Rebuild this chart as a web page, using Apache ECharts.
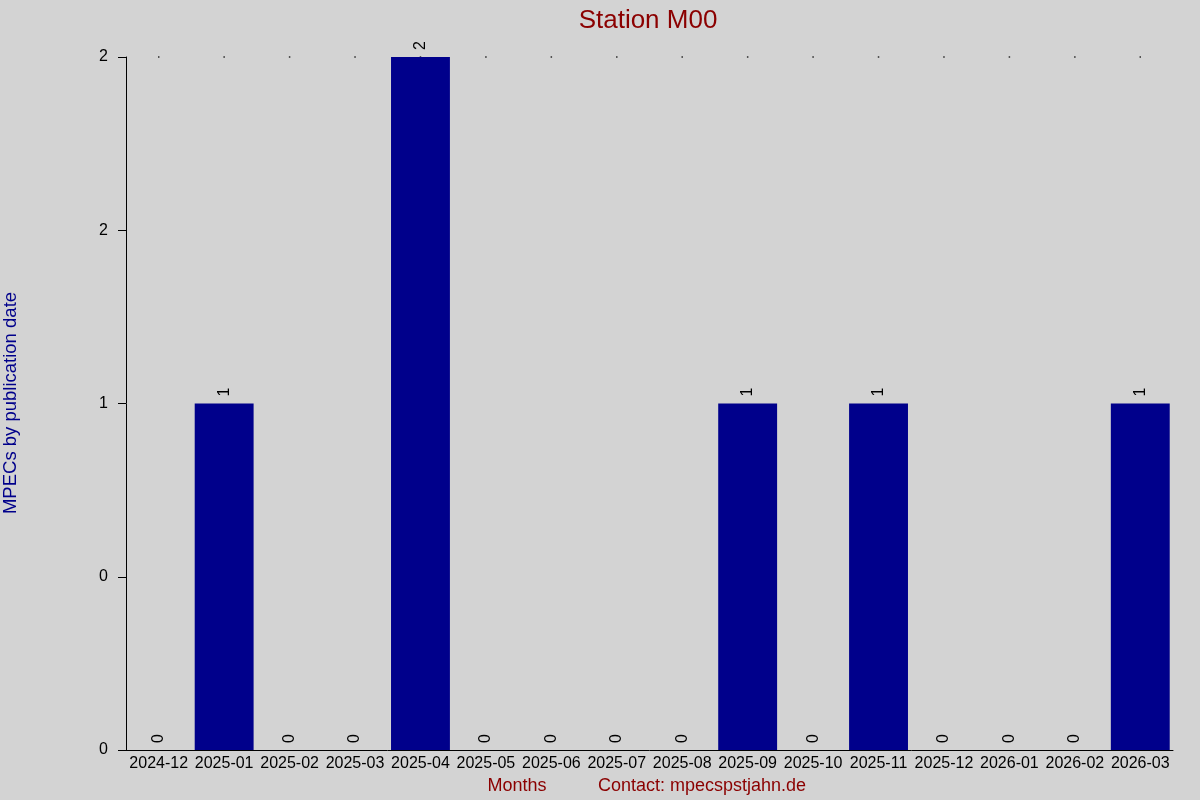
<!DOCTYPE html>
<html>
<head>
<meta charset="utf-8">
<script src="https://cdn.jsdelivr.net/npm/echarts@6/dist/echarts.min.js"></script>
<style>
    html, body { margin: 0; padding: 0; background: #d3d3d3; }
    #station_chart { width: 1200px; height: 800px; }
</style>
</head>
<body>
<div id="station_chart"></div>
<script>
// Chart data
var months = ['2024-12', '2025-01', '2025-02', '2025-03', '2025-04', '2025-05', '2025-06', '2025-07',
              '2025-08', '2025-09', '2025-10', '2025-11', '2025-12', '2026-01', '2026-02', '2026-03'];
var mpecCounts = [0, 1, 0, 0, 2, 0, 0, 0, 0, 1, 0, 1, 0, 0, 0, 1];
var topDots = [2, 2, 2, 2, 2, 2, 2, 2, 2, 2, 2, 2, 2, 2, 2, 2];
var yTickLabels = ['0', '0', '1', '2', '2'];

var StationChart = function() {

    var _stationChart = function() {
        if (typeof echarts == 'undefined') {
            console.warn('Warning - echarts.min.js is not loaded.');
            return;
        }

        var station_element = document.getElementById('station_chart');
        if (!station_element) return;

        var station_chart = echarts.init(station_element);

        station_chart.setOption({
            backgroundColor: '#d3d3d3',
            animation: false,
            textStyle: {
                fontFamily: '"Liberation Sans", Arial, sans-serif'
            },

            // Title
            title: {
                text: 'Station M00',
                left: 643,
                top: 3,
                textAlign: 'center',
                textStyle: {
                    color: '#8b0000',
                    fontSize: 26,
                    fontWeight: 'normal',
                    fontFamily: '"Liberation Sans", Arial, sans-serif'
                }
            },

            // Axis names and footer
            graphic: [
                {
                    type: 'text',
                    x: 11,
                    y: 403,
                    rotation: Math.PI / 2,
                    style: {
                        text: 'MPECs by publication date',
                        fill: '#00008b',
                        fontSize: 18.5,
                        fontFamily: '"Liberation Sans", Arial, sans-serif',
                        textAlign: 'center',
                        textVerticalAlign: 'middle'
                    }
                },
                {
                    type: 'text',
                    x: 517,
                    y: 786,
                    style: {
                        text: 'Months',
                        fill: '#8b0000',
                        fontSize: 18,
                        fontFamily: '"Liberation Sans", Arial, sans-serif',
                        textAlign: 'center',
                        textVerticalAlign: 'middle'
                    }
                },
                {
                    type: 'text',
                    x: 598,
                    y: 786,
                    style: {
                        text: 'Contact: mpecspstjahn.de',
                        fill: '#8b0000',
                        fontSize: 18,
                        fontFamily: '"Liberation Sans", Arial, sans-serif',
                        textAlign: 'left',
                        textVerticalAlign: 'middle'
                    }
                }
            ],

            grid: {
                left: 126,
                right: 27,
                top: 57,
                bottom: 50,
                containLabel: false
            },

            xAxis: {
                type: 'category',
                data: months,
                axisLine: {
                    lineStyle: { color: '#000', width: 1 }
                },
                axisTick: { show: false },
                axisLabel: {
                    color: '#000',
                    fontSize: 16,
                    margin: 6,
                    interval: 0
                },
                splitLine: { show: false }
            },

            yAxis: {
                type: 'value',
                min: 0,
                max: 2,
                interval: 0.5,
                axisLine: {
                    show: true,
                    lineStyle: { color: '#000', width: 1 }
                },
                axisTick: {
                    show: true,
                    length: 8,
                    lineStyle: { color: '#000' }
                },
                axisLabel: {
                    color: '#000',
                    fontSize: 16,
                    margin: 18,
                    formatter: function(v) {
                        return yTickLabels[Math.round(v / 0.5)];
                    }
                },
                splitLine: { show: false }
            },

            series: [
                {
                    name: 'Top marks',
                    type: 'scatter',
                    data: topDots,
                    symbol: 'rect',
                    symbolSize: 1.5,
                    z: 1,
                    itemStyle: { color: '#000' },
                    silent: true
                },
                {
                    name: 'MPECs',
                    type: 'bar',
                    data: mpecCounts,
                    barWidth: '90%',
                    z: 2,
                    itemStyle: { color: '#00008b' },
                    label: {
                        show: true,
                        position: 'top',
                        rotate: 90,
                        align: 'left',
                        verticalAlign: 'middle',
                        distance: 7,
                        color: '#000',
                        fontSize: 16
                    }
                }
            ]
        });
    };

    return {
        init: function() {
            _stationChart();
        }
    }
}();

document.addEventListener('DOMContentLoaded', function() {
    StationChart.init();
});
</script>
</body>
</html>
